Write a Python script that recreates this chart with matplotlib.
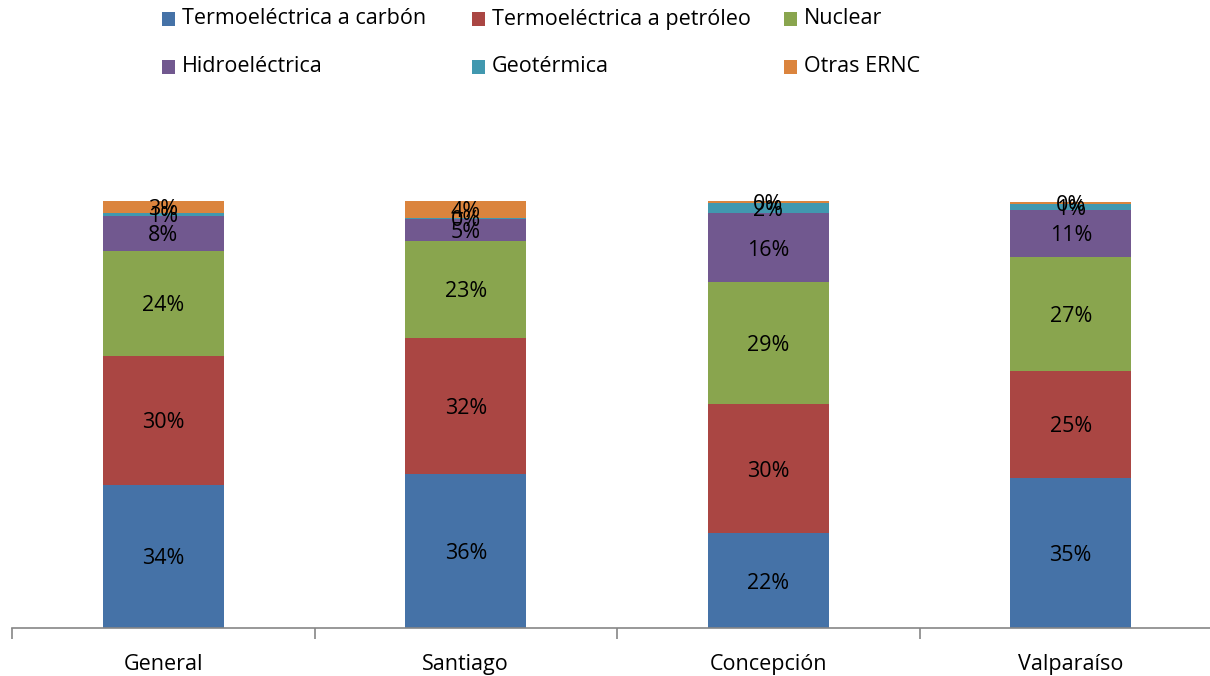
import matplotlib.pyplot as plt
from matplotlib.patches import Rectangle
import numpy as np

plt.rcParams['font.family'] = ['Open Sans', 'DejaVu Sans']

regions = ['General', 'Santiago', 'Concepción', 'Valparaíso']
sources = ['Termoeléctrica a carbón', 'Termoeléctrica a petróleo', 'Nuclear',
           'Hidroeléctrica', 'Geotérmica', 'Otras ERNC']
colors = ['#4572A7', '#AA4643', '#89A54E', '#71588F', '#4198AF', '#DB843D']

# share of each source per region, in percent
carbon = [33.6, 36.1, 22.2, 35.2]
petroleum = [30.2, 31.9, 30.2, 25.1]
nuclear = [24.5, 22.7, 28.6, 26.7]
hydro = [8.2, 5.2, 16.2, 11.0]
geothermal = [0.8, 0.2, 2.3, 1.4]
other = [2.7, 3.9, 0.4, 0.4]
shares = [carbon, petroleum, nuclear, hydro, geothermal, other]

W, H = 1210, 676
fig = plt.figure(figsize=(W / 100, H / 100), dpi=100)
ax = fig.add_axes([12 / W, 1 - 628 / H, 1210 / W, 427 / H])

x = np.arange(len(regions))
bottom = np.zeros(len(regions))
for vals, col in zip(shares, colors):
    vals = np.array(vals)
    ax.bar(x, vals, 0.4, bottom=bottom, color=col, edgecolor='none')
    for xi, b, v in zip(x, bottom, vals):
        ax.text(xi, b + v / 2, '{:.0f}%'.format(v), ha='center',
                va='center_baseline', fontsize=15.5, color='black')
    bottom += vals

ax.set_xlim(-0.5, 3.5)
ax.set_ylim(0, bottom.max())
for side in ['top', 'right', 'left']:
    ax.spines[side].set_visible(False)
ax.spines['bottom'].set_color('#868686')
ax.spines['bottom'].set_linewidth(1.2)
ax.set_yticks([])
ax.set_xticks(x)
ax.set_xticklabels(regions, fontsize=15.5)
ax.tick_params(axis='x', which='major', length=0, pad=19)
ax.set_xticks(np.arange(-0.5, 4.0, 1.0), minor=True)
ax.tick_params(axis='x', which='minor', length=8, width=1.2,
               color='#868686', direction='out')

# legend laid out in a 3x2 grid above the bars
col_x = [162, 472, 784]
row_y = [19, 67]
sq = 13
for i, (name, col) in enumerate(zip(sources, colors)):
    px, py = col_x[i % 3], row_y[i // 3]
    fig.patches.append(Rectangle((px / W, 1 - (py + sq / 2) / H), sq / W,
                                 sq / H, transform=fig.transFigure,
                                 facecolor=col, edgecolor='none'))
    fig.text((px + 20) / W, 1 - py / H, name, fontsize=15.5, ha='left',
             va='center')

fig.savefig('out.png', dpi=100)
